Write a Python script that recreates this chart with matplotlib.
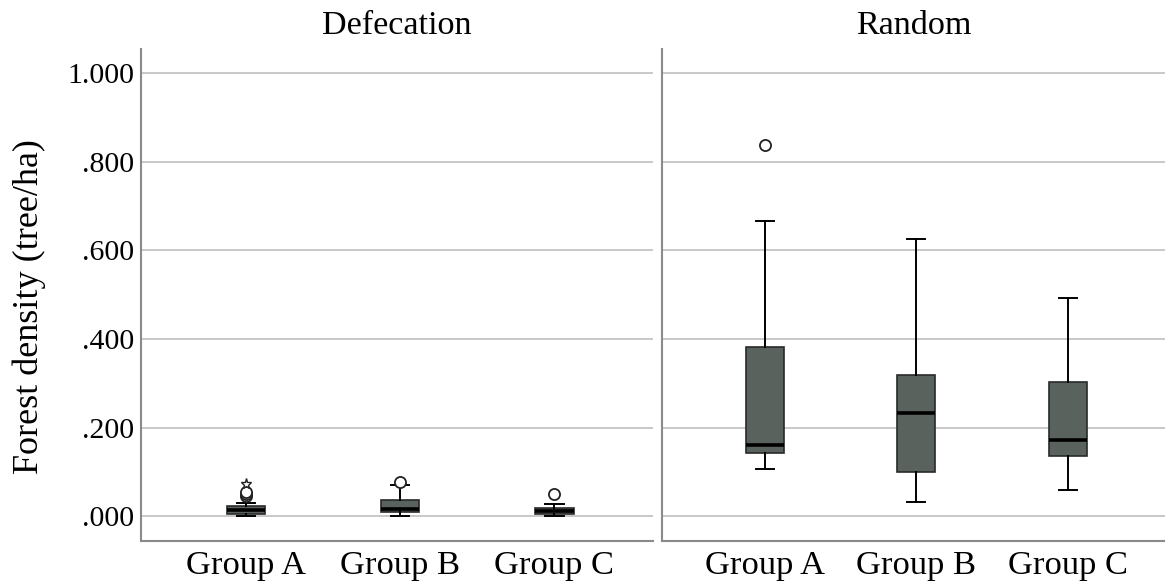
import matplotlib.pyplot as plt
from matplotlib.ticker import FuncFormatter

plt.rcParams['font.family'] = ['Liberation Serif', 'DejaVu Serif']

groups = ['Group A', 'Group B', 'Group C']
panels = ['Defecation', 'Random']

# box stats: whislo, q1, med, q3, whishi
defecation_stats = [
    [0.000, 0.006, 0.015, 0.024, 0.031],
    [0.000, 0.010, 0.016, 0.038, 0.070],
    [0.001, 0.005, 0.012, 0.020, 0.029],
]
defecation_outliers = [[0.045, 0.050, 0.055], [0.077], [0.050]]
defecation_extremes = [[0.074], [], []]

random_stats = [
    [0.106, 0.142, 0.162, 0.381, 0.667],
    [0.032, 0.099, 0.234, 0.318, 0.626],
    [0.059, 0.137, 0.173, 0.302, 0.493],
]
random_outliers = [[0.838], [], []]
random_extremes = [[], [], []]

yticks = [0.0, 0.2, 0.4, 0.6, 0.8, 1.0]

box_fill = '#59625d'
grid_col = '#c8c8c8'
spine_col = '#8a8a8a'


def fmt(v, pos):
    s = f'{v:.3f}'
    return s[1:] if s.startswith('0') else s


def draw_panel(ax, title, stats, outliers, extremes, show_y):
    bxp_stats = []
    for name, st, fl in zip(groups, stats, outliers):
        bxp_stats.append(dict(label=name, whislo=st[0], q1=st[1], med=st[2],
                              q3=st[3], whishi=st[4], fliers=fl))
    pos = [1, 2, 3]
    ax.bxp(bxp_stats, positions=pos, widths=0.25, patch_artist=True,
           showfliers=True,
           boxprops=dict(facecolor=box_fill, edgecolor='#2a2a2a', linewidth=1.2),
           medianprops=dict(color='black', linewidth=2.6),
           whiskerprops=dict(color='black', linewidth=1.4),
           capprops=dict(color='black', linewidth=1.4),
           capwidths=0.12,
           flierprops=dict(marker='o', markersize=8, markerfacecolor='white',
                           markeredgecolor='#222222', markeredgewidth=1.3))
    for p, ex in zip(pos, extremes):
        if ex:
            ax.plot([p] * len(ex), ex, linestyle='none', marker='*', markersize=8,
                    markerfacecolor='white', markeredgecolor='#222222', markeredgewidth=1.0)
    ax.set_xlim(0.32, 3.64)
    ax.set_ylim(-0.056, 1.054)
    ax.set_yticks(yticks)
    ax.yaxis.set_major_formatter(FuncFormatter(fmt))
    ax.grid(axis='y', color=grid_col, linewidth=1.4)
    ax.set_axisbelow(True)
    for s in ['top', 'right']:
        ax.spines[s].set_visible(False)
    for s in ['left', 'bottom']:
        ax.spines[s].set_color(spine_col)
        ax.spines[s].set_linewidth(1.5)
    ax.tick_params(axis='both', length=0)
    ax.tick_params(axis='y', labelsize=21.5, pad=5)
    ax.tick_params(axis='x', labelsize=24.8, pad=7)
    if not show_y:
        ax.tick_params(axis='y', labelleft=False)
    ax.set_title(title, fontsize=24.6, pad=11)


fig = plt.figure(figsize=(11.65, 5.87), dpi=100)
ax1 = fig.add_axes([0.121, 0.078, 0.4395, 0.8385])
ax2 = fig.add_axes([0.568, 0.078, 0.432, 0.8385])

draw_panel(ax1, panels[0], defecation_stats, defecation_outliers, defecation_extremes, True)
draw_panel(ax2, panels[1], random_stats, random_outliers, random_extremes, False)
ax1.set_ylabel('Forest density (tree/ha)', fontsize=26)
ax1.yaxis.set_label_coords(-0.186, 0.476)

fig.savefig('out.png', dpi=100)
